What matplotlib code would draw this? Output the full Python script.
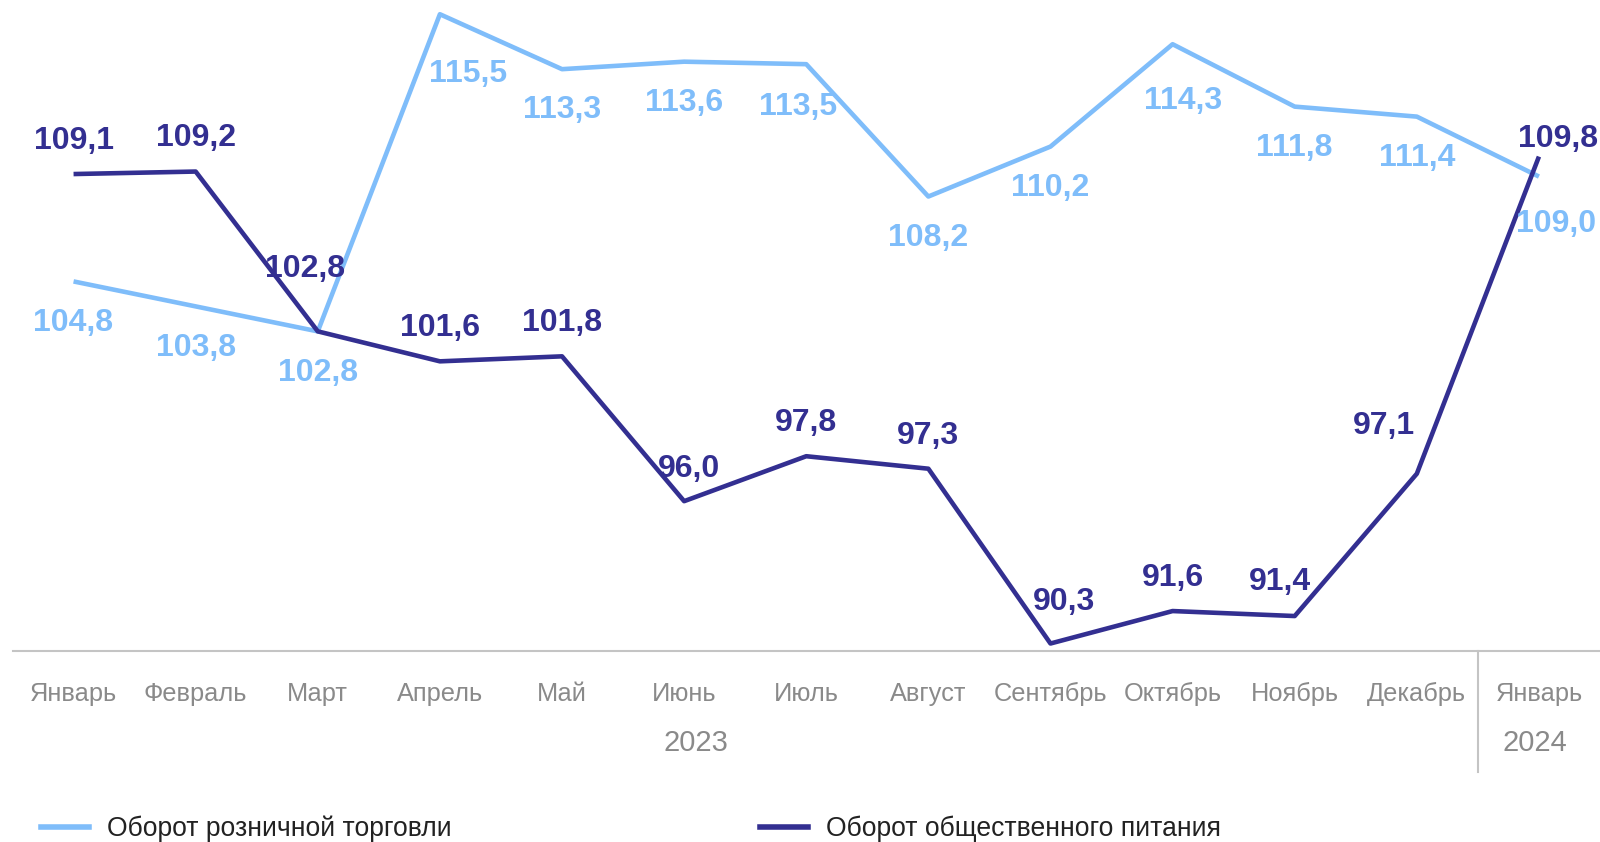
import matplotlib.pyplot as plt
from matplotlib.lines import Line2D
import numpy as np

plt.rcParams['font.family'] = ['Liberation Sans', 'DejaVu Sans']

months = ["Январь", "Февраль", "Март", "Апрель", "Май", "Июнь", "Июль",
          "Август", "Сентябрь", "Октябрь", "Ноябрь", "Декабрь", "Январь"]
years = ["2023", "2024"]
retail = [104.8, 103.8, 102.8, 115.5, 113.3, 113.6, 113.5,
          108.2, 110.2, 114.3, 111.8, 111.4, 109.0]
catering = [109.1, 109.2, 102.8, 101.6, 101.8, 96.0, 97.8,
            97.3, 90.3, 91.6, 91.4, 97.1, 109.8]
names = ["Оборот розничной торговли", "Оборот общественного питания"]

light = '#7fbdfa'
dark = '#332f91'
grey = '#8a8a8a'

fig = plt.figure(figsize=(16, 8.42), dpi=100)
ax = fig.add_axes([12.5 / 1600, 1 - 651 / 842, 1 - 12.5 / 1600, 651 / 842])

x = np.arange(len(months))
ax.plot(x, retail, color=light, lw=3.3, solid_capstyle='butt', clip_on=False)
ax.plot(x, catering, color=dark, lw=3.3, solid_capstyle='butt', clip_on=False)

ax.set_xlim(-0.5, len(months) - 0.5)
ax.set_ylim(90.0, 116.07)

# label offsets in screen pixels (dx, dy), moved off the lines where needed
retail_adj = {3: (28, -59), 6: (-8, -42), 9: (10, -56), 12: (17, -47)}
catering_adj = {2: (-12, 61), 5: (5, 32), 8: (13, 41), 10: (-14, 33),
                11: (-32, 47), 12: (19, 17)}
k = 1.02 * 0.72


def fmt(v):
    return f"{v:.1f}".replace('.', ',')


for i, v in enumerate(retail):
    dx, dy = retail_adj.get(i, (0, -40.5))
    ax.annotate(fmt(v), (i, v), xytext=(dx * k, dy * k),
                textcoords='offset points', ha='center', va='center',
                color=light, fontsize=23, fontweight='bold', annotation_clip=False)
for i, v in enumerate(catering):
    dx, dy = catering_adj.get(i, (0, 32.5))
    ax.annotate(fmt(v), (i, v), xytext=(dx * k, dy * k),
                textcoords='offset points', ha='center', va='center',
                color=dark, fontsize=23, fontweight='bold', annotation_clip=False)

for s in ['top', 'right', 'left']:
    ax.spines[s].set_visible(False)
ax.spines['bottom'].set_color('#c4c4c4')
ax.spines['bottom'].set_linewidth(1.5)
ax.set_yticks([])
ax.set_xticks(x)
ax.set_xticklabels(months, fontsize=18.3, color=grey)
ax.tick_params(axis='x', length=0, pad=22.5)

# year separator and year labels
ax.plot([11.5, 11.5], [0, -0.186], transform=ax.get_xaxis_transform(),
        color='#c4c4c4', lw=1.5, clip_on=False)
ax.text(5.1, -0.141, years[0], transform=ax.get_xaxis_transform(),
        ha='center', va='center', fontsize=21, color=grey)
ax.text(11.97, -0.141, years[1], transform=ax.get_xaxis_transform(),
        ha='center', va='center', fontsize=21, color=grey)

# two separate legend entries
for name, col, x0 in [(names[0], light, 41 / 1600), (names[1], dark, 760 / 1600)]:
    h = Line2D([], [], color=col, lw=4)
    leg = fig.legend([h], [name], loc='center left', bbox_to_anchor=(x0, 1 - 829 / 842),
                     frameon=False, fontsize=19.1, handlelength=1.8,
                     handletextpad=0.7, borderpad=0, borderaxespad=0)
    leg.get_texts()[0].set_color('#222222')

fig.savefig('out.png', dpi=100)
